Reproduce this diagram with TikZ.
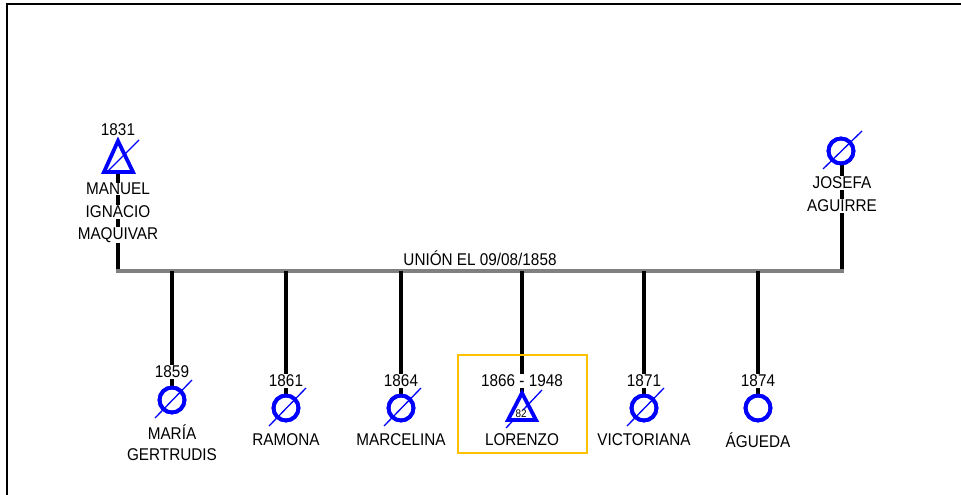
\documentclass[tikz,border=0pt]{standalone}
\usepackage{fontspec}
\setmainfont{Liberation Sans}
\newfontfamily\condsans[FakeStretch=0.9]{Liberation Sans}
\definecolor{symblue}{RGB}{0,0,255}
\definecolor{busgrey}{RGB}{128,128,128}
\definecolor{boxorange}{RGB}{255,192,0}
\begin{document}
\begin{tikzpicture}[x=1pt,y=-1pt,
  txt/.style={font=\condsans\fontsize{17}{19}\selectfont, inner sep=0.5pt, fill=white, text=black},
  smalltxt/.style={font=\condsans\fontsize{11}{12}\selectfont, inner sep=0.3pt, fill=white},
  female/.style={draw=symblue, line width=3.8pt, circle, minimum size=25pt, inner sep=0pt},
  slash/.style={draw=symblue, line width=1.3pt},
  tri/.style={draw=symblue, line width=3.8pt, line join=miter},
  link/.style={draw=black, line width=3.8pt},
  bus/.style={draw=busgrey, line width=4pt}]
\useasboundingbox (0,0) rectangle (961,495);
% frame
\draw[line width=2.4pt] (7,495) -- (7,4) -- (961,4);

% father
\coordinate (fapex) at (118,141);
\coordinate (fbl) at (104,172);
\coordinate (fbr) at (133,172);
\coordinate (fbase) at (118,172);
\coordinate (fbus) at (118,271);
\coordinate (mbus) at (842,271);
\draw[link] (fbase) -- (fbus);
\draw[tri] (fapex) -- (fbl) -- (fbr) -- cycle;
\draw[slash] (106,173) -- (139,140);
\node[txt] (fyear) at (118,130) {1831};
\node[txt] (fn1) at (118,189) {MANUEL};
\node[txt] (fn2) at (118,212) {IGNACIO};
\node[txt] (fn3) at (118,235) {MAQUIVAR};

% mother
\node[female] (mom) at (841,151) {};
\draw[link] (mom.south -| mbus) -- (mbus);
\node[female] at (841,151) {};
\draw[slash] (823,169) -- (862,131);
\node[txt] (mn1) at (842,183) {JOSEFA};
\node[txt] (mn2) at (842,206) {AGUIRRE};

% union bar
\draw[bus] (116,271) -- (844,271);
\node[txt, fill=none] (union) at (480,258) {UNIÓN EL 09/08/1858};

% children
\foreach \cx/\cname in {172/c1,286/c2,401/c3,522/c4,644/c5,758/c6}{
  \coordinate (\cname bus) at (\cx,271);
}
% María
\node[female] (c1s) at (172,400) {};
\draw[link] (c1bus) -- (c1s.north);
\node[female] at (172,400) {};
\draw[slash] (155,418) -- (192,380);
\node[txt] (c1y) at (172,372) {1859};
\node[txt] (c1n1) at (172,432) {MARÍA};
\node[txt] (c1n2) at (172,455) {GERTRUDIS};

% Ramona, Marcelina, Victoriana, Águeda
\foreach \cx/\cname/\yr/\nm/\sl in {286/c2/1861/RAMONA/1,401/c3/1864/MARCELINA/1,644/c5/1871/VICTORIANA/1,758/c6/1874/ÁGUEDA/0}{
  \node[female] (\cname s) at (\cx,408) {};
  \draw[link] (\cname bus) -- (\cname s.north);
  \node[female] at (\cx,408) {};
  \ifnum\sl=1 \draw[slash] (\cx-17,426) -- (\cx+20,388); \fi
  \node[txt] (\cname y) at (\cx,381) {\yr};
  \node[txt] (\cname n) at (\cx,440) {\nm};
}

% Lorenzo
\coordinate (c4apex) at (522,393);
\coordinate (c4bl) at (508,420);
\coordinate (c4br) at (536,420);
\draw[link] (c4bus) -- (c4apex);
\draw[tri] (c4apex) -- (c4bl) -- (c4br) -- cycle;
\draw[slash] (506,428) -- (542,390);
\node[smalltxt] (c4age) at (521,414) {82};
\node[txt] (c4y) at (522,381) {1866 - 1948};
\node[txt] (c4n) at (522,440) {LORENZO};
\draw[boxorange, line width=2.2pt] (458,355) rectangle (587,453);
\end{tikzpicture}
\end{document}
